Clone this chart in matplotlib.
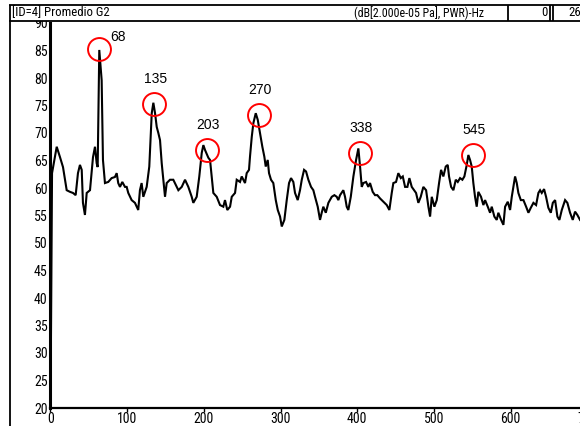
import numpy as np
import matplotlib
matplotlib.use("Agg")
from matplotlib import pyplot as plt
from matplotlib import font_manager
from matplotlib.patches import Rectangle

# spectrum (Hz, dB)
freq_hz = [
    0, 2.0, 8.1, 12.4, 16.3, 21.1, 25.4, 29.3, 32.8, 35.8,
    38.4, 40.7, 42.3, 44.9, 47.2, 51.5, 55.4, 58.0, 60.2, 61.5,
    63.6, 66.7, 68.4, 71.0, 75.3, 79.7, 84.0, 86.3, 88.3, 90.6,
    93.6, 97.1, 99.3, 101.4, 105.8, 110.1, 114.4, 116.6, 118.8, 121.0,
    125.4, 128.8, 132.0, 134.1, 136.3, 138.5, 140.6, 142.8, 145.0, 147.1,
    149.3, 151.5, 155.8, 160.1, 164.6, 166.7, 171.1, 175.4, 179.7, 184.1,
    186.2, 190.6, 194.0, 197.2, 199.3, 201.5, 205.8, 208.0, 210.2, 212.3,
    216.7, 221.0, 225.3, 227.5, 230.5, 234.1, 236.3, 240.6, 242.8, 247.1,
    249.3, 251.4, 253.6, 255.8, 258.8, 260.1, 262.4, 264.5, 267.6, 270.2,
    273.2, 276.2, 278.8, 280.6, 283.2, 284.9, 287.5, 290.5, 293.7, 296.3,
    299.3, 301.5, 304.9, 308.0, 311.0, 313.6, 316.6, 318.8, 322.3, 325.3,
    327.6, 330.6, 333.2, 336.2, 339.7, 342.7, 344.9, 348.4, 351.4, 353.6,
    355.7, 358.9, 362.3, 366.7, 370.1, 373.2, 375.3, 377.5, 381.8, 384.0,
    386.2, 388.3, 391.5, 394.9, 398.4, 401.4, 403.6, 405.8, 407.9, 411.4,
    414.4, 416.6, 420.1, 423.1, 426.1, 429.7, 434.0, 438.4, 441.8, 444.9,
    447.0, 450.5, 453.5, 456.7, 459.3, 462.3, 465.3, 467.9, 471.0, 474.0,
    476.6, 479.6, 482.7, 486.1, 489.7, 492.7, 494.9, 497.1, 500.5, 503.6,
    506.6, 509.2, 512.2, 515.3, 517.9, 519.6, 522.3, 525.3, 528.4, 531.0,
    534.0, 537.0, 539.6, 542.7, 544.8, 547.0, 549.2, 551.3, 553.5, 555.7,
    557.8, 561.3, 564.4, 566.6, 570.1, 573.1, 575.3, 578.7, 581.8, 583.9,
    587.5, 590.5, 592.7, 596.2, 599.2, 601.4, 603.5, 605.7, 607.9, 610.0,
    613.2, 616.6, 620.1, 623.1, 626.2, 629.6, 633.1, 636.1, 638.3, 640.5,
    643.5, 646.1, 649.1, 652.3, 654.9, 657.9, 660.9, 663.5, 666.6, 670.9,
    673.9, 677.4, 680.9, 683.9, 686.9, 690.4,
]
level_db = [
    20.0, 62.7, 67.5, 65.6, 63.8, 59.6, 59.3, 59.1, 58.7, 62.7,
    64.2, 63.3, 57.3, 55.1, 59.1, 59.6, 65.6, 67.5, 64.5, 63.8,
    85.1, 79.6, 65.1, 60.9, 61.1, 61.8, 62.0, 62.7, 60.9, 60.2,
    61.1, 60.2, 60.2, 59.1, 57.8, 57.3, 56.0, 59.6, 60.9, 58.4,
    60.2, 63.9, 73.6, 75.5, 73.6, 71.1, 70.0, 68.7, 64.5, 61.5,
    58.4, 60.9, 61.5, 61.5, 60.2, 59.6, 60.2, 61.5, 60.2, 58.4,
    57.3, 58.4, 62.1, 66.4, 67.8, 66.9, 65.5, 65.1, 62.1, 59.1,
    58.4, 56.9, 56.6, 57.8, 56.0, 56.6, 58.4, 59.1, 61.5, 61.1,
    62.1, 61.5, 60.9, 62.7, 63.3, 65.7, 69.3, 71.8, 73.6, 72.4,
    70.0, 67.5, 65.7, 63.9, 65.1, 62.7, 61.5, 60.9, 57.8, 56.0,
    54.8, 53.0, 54.2, 57.8, 60.9, 61.8, 61.1, 59.1, 57.8, 59.6,
    61.5, 63.3, 63.0, 61.5, 60.2, 59.6, 58.4, 56.6, 54.2, 55.5,
    56.6, 55.5, 57.3, 58.4, 58.7, 58.4, 57.8, 58.7, 59.6, 58.4,
    56.6, 56.0, 58.4, 62.1, 65.1, 67.2, 63.9, 60.2, 60.9, 61.1,
    60.2, 60.9, 59.3, 58.7, 58.7, 58.1, 57.5, 56.9, 56.0, 59.1,
    60.9, 61.1, 62.7, 61.8, 62.1, 60.2, 60.2, 61.8, 60.2, 59.6,
    59.1, 57.3, 58.4, 60.2, 59.6, 56.6, 54.8, 58.4, 56.6, 57.8,
    60.9, 63.3, 62.1, 63.9, 64.2, 62.1, 60.2, 59.6, 61.5, 61.1,
    61.8, 61.5, 62.1, 64.2, 66.0, 65.1, 63.9, 60.9, 58.4, 56.6,
    59.3, 58.4, 56.9, 57.8, 56.6, 55.5, 56.6, 54.8, 54.2, 55.5,
    54.2, 53.3, 56.6, 57.5, 56.0, 58.4, 60.2, 62.1, 60.9, 59.1,
    57.8, 57.8, 56.6, 55.5, 56.4, 57.3, 56.9, 59.1, 59.6, 59.1,
    59.8, 58.4, 56.4, 55.5, 57.3, 57.8, 54.8, 54.2, 56.0, 57.8,
    57.3, 55.5, 54.2, 55.7, 55.1, 54.2,
]

# marked peaks (circle centres) and their labels
peak_hz = [63.2, 135.0, 204.1, 271.9, 403.6, 550.5]
peak_db = [85.3, 75.3, 66.9, 73.3, 66.3, 66.0]
peak_labels = ["68", "135", "203", "270", "338", "545"]

x_ticks = [0, 100, 200, 300, 400, 500, 600, 700]
y_ticks = [20, 25, 30, 35, 40, 45, 50, 55, 60, 65, 70, 75, 80, 85, 90]

title_left = "[ID=4] Promedio G2"
title_units = "(dB[2.000e-05 Pa], PWR)-Hz"
box_values = ["0", "26"]


def narrow_font(size):
    fonts = font_manager.fontManager.ttflist
    names = {f.name for f in fonts}
    for name in ["Liberation Sans Narrow", "Arial Narrow", "Roboto Condensed",
                 "Open Sans Condensed", "DejaVu Sans Condensed"]:
        if name in names:
            return font_manager.FontProperties(family=name, size=size)
    for f in fonts:
        if f.name == "DejaVu Sans" and f.stretch == "condensed" and f.weight in (400, "normal"):
            return font_manager.FontProperties(fname=f.fname, size=size)
    return font_manager.FontProperties(family="Liberation Sans", size=size - 1)


tick_fp = narrow_font(10)
head_fp = narrow_font(9.2)
units_fp = narrow_font(8.6)

W, H = 580, 426
fig = plt.figure(figsize=(W / 100, H / 100), dpi=100)

# axes: 0 Hz at x=50.5px, 700 Hz at ~587px; 90 dB at y=23px, 20 dB at y=408px
x0, x1 = 50.5, 587.4
y_top, y_bot = 23, 408
ax = fig.add_axes([x0 / W, (H - y_bot) / H, (x1 - x0) / W, (y_bot - y_top) / H])
ax.plot(freq_hz, level_db, color="black", lw=1.5, solid_joinstyle="miter")
ax.plot(peak_hz, peak_db, "o", mfc="none", mec="red", ms=16.5, mew=1.4)

for i, (hx, hy, lab) in enumerate(zip(peak_hz, peak_db, peak_labels)):
    off = (14, 8.5) if i == 0 else (1, 18)
    ax.annotate(lab, (hx, hy), xytext=off, textcoords="offset points",
                ha="center", va="center", fontsize=10, family="Liberation Sans")

ax.set_xlim(0, 700)
ax.set_ylim(20, 90)
ax.set_xticks(x_ticks)
ax.set_yticks(y_ticks)
ax.tick_params(axis="x", length=3, width=1, pad=0)
ax.tick_params(axis="y", length=0, pad=2)
for lab in ax.get_xticklabels() + ax.get_yticklabels():
    lab.set_fontproperties(tick_fp)
ax.spines["top"].set_visible(False)
ax.spines["right"].set_visible(False)
ax.spines["left"].set_linewidth(2.2)
ax.spines["bottom"].set_linewidth(1.6)

# header bar and outer frame drawn in pixel units
ov = fig.add_axes([0, 0, 1, 1], zorder=5)
ov.set_xlim(0, W)
ov.set_ylim(H, 0)
ov.axis("off")
ov.patch.set_alpha(0)
ov.add_patch(Rectangle((9, 5), W - 9, 15.5, facecolor="white", edgecolor="none"))
lk = dict(color="black", lw=1.3, solid_capstyle="butt")
ov.plot([9, W], [5, 5], **lk)
ov.plot([9, W], [20.5, 20.5], **lk)
ov.plot([9.5, 9.5], [5, H], **lk)
ov.plot([508, 508], [5, 20.5], **lk)
ov.plot([550, 550], [5, 20.5], **lk)
ov.plot([553, 553], [5, 20.5], **lk)
ov.text(12, 13, title_left, ha="left", va="center", fontproperties=head_fp)
ov.text(484, 13, title_units, ha="right", va="center", fontproperties=units_fp)
ov.text(548, 13, box_values[0], ha="right", va="center", fontproperties=head_fp)
ov.text(568, 13, box_values[1], ha="left", va="center", fontproperties=head_fp)

fig.savefig("out.png", dpi=100)
